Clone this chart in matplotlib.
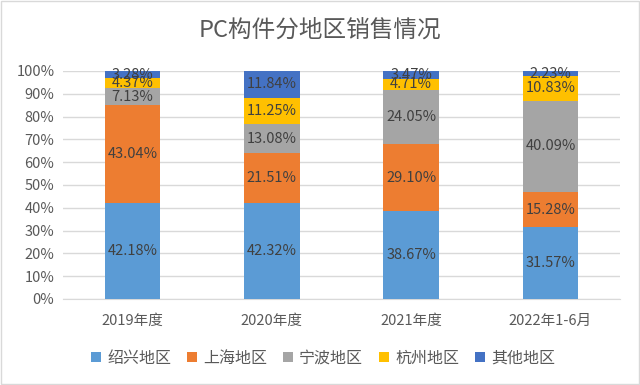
import matplotlib
matplotlib.use("Agg")
import matplotlib.pyplot as plt
import numpy as np

plt.rcParams['font.family'] = ['Noto Sans CJK SC', 'DejaVu Sans']

categories = ["2019年度", "2020年度", "2021年度", "2022年1-6月"]
series_names = ["绍兴地区", "上海地区", "宁波地区", "杭州地区", "其他地区"]
shaoxing = [42.18, 42.32, 38.67, 31.57]
shanghai = [43.04, 21.51, 29.10, 15.28]
ningbo = [7.13, 13.08, 24.05, 40.09]
hangzhou = [4.37, 11.25, 4.71, 10.83]
other = [3.28, 11.84, 3.47, 2.23]
yticks = [0, 10, 20, 30, 40, 50, 60, 70, 80, 90, 100]

colors = ["#5B9BD5", "#ED7D31", "#A5A5A5", "#FFC000", "#4472C4"]
series = [shaoxing, shanghai, ningbo, hangzhou, other]

fig = plt.figure(figsize=(6.4, 3.85), dpi=100)
ax = fig.add_axes([0.098, 0.2234, 0.871, 0.5922])

x = np.arange(len(categories))
bottom = np.zeros(len(categories))
for name, vals, c in zip(series_names, series, colors):
    vals = np.array(vals)
    ax.bar(x, vals, 0.40, bottom=bottom, color=c, label=name, zorder=3)
    for xi, b, v in zip(x, bottom, vals):
        ax.text(xi, b + v / 2, f"{v:.2f}%", ha='center', va='center',
                fontsize=10.5, color='#404040', zorder=4)
    bottom += vals

ax.set_xlim(-0.5, len(categories) - 0.5)
ax.set_ylim(0, 100)
ax.set_yticks(yticks)
ax.set_yticklabels([f"{t}%" for t in yticks])
ax.set_xticks(x)
ax.set_xticklabels(categories)
ax.tick_params(axis='both', length=0, labelsize=10.5, labelcolor='#595959')
ax.tick_params(axis='x', pad=11)
ax.tick_params(axis='y', pad=6)
ax.grid(axis='y', color='#D9D9D9', linewidth=1, zorder=0)
for s in ['top', 'right', 'left']:
    ax.spines[s].set_visible(False)
ax.spines['bottom'].set_color('#D9D9D9')

fig.text(0.5, 0.922, "PC构件分地区销售情况", ha='center', va='center',
         fontsize=17, color='#595959')

fig.legend(*ax.get_legend_handles_labels(), loc='center', bbox_to_anchor=(0.505, 0.07),
           ncol=5, frameon=False, fontsize=11.5, labelcolor='#595959',
           handlelength=0.6, handleheight=0.6, handletextpad=0.4, columnspacing=1.0)

fig.patches.append(plt.Rectangle((0.002, 0.002), 0.996, 0.996, transform=fig.transFigure,
                                 fill=False, edgecolor='#D9D9D9', linewidth=1))

fig.savefig("out.png", dpi=100)
